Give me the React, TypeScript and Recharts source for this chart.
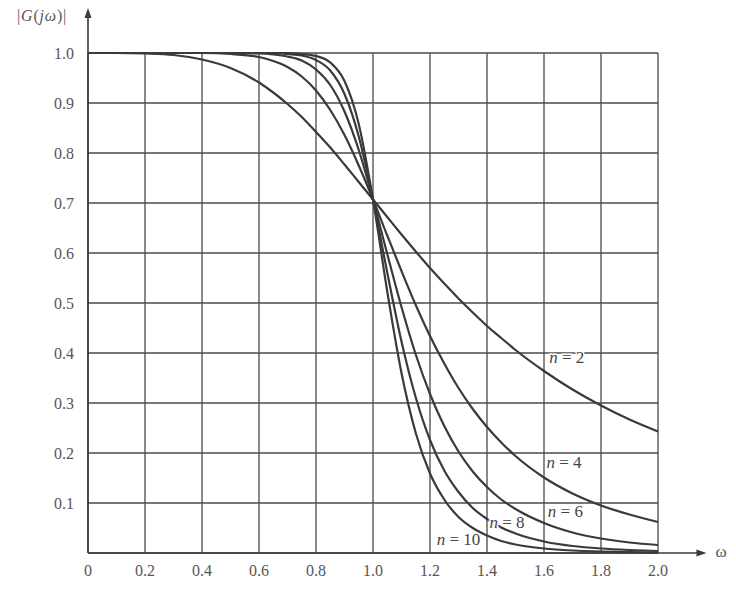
import { LineChart, Line, XAxis, YAxis, CartesianGrid, ReferenceLine, ReferenceDot } from 'recharts'

// frequency points (ω)
const omega = [0, 0.1, 0.2, 0.3, 0.4, 0.5, 0.6, 0.65, 0.7, 0.75, 0.8, 0.85, 0.9, 0.95, 1.0, 1.05, 1.1, 1.15, 1.2, 1.25, 1.3, 1.35, 1.4, 1.45, 1.5, 1.6, 1.7, 1.8, 1.9, 2.0]

// |G(jω)|
const n2 = [1, 1, 0.999, 0.996, 0.987, 0.97, 0.941, 0.921, 0.898, 0.872, 0.842, 0.811, 0.777, 0.742, 0.707, 0.672, 0.637, 0.603, 0.57, 0.539, 0.509, 0.481, 0.454, 0.43, 0.406, 0.364, 0.327, 0.295, 0.267, 0.243]
const n4 = [1, 1, 1, 1, 1, 0.998, 0.992, 0.984, 0.972, 0.953, 0.925, 0.886, 0.836, 0.775, 0.707, 0.635, 0.564, 0.496, 0.434, 0.379, 0.33, 0.288, 0.252, 0.221, 0.194, 0.151, 0.119, 0.095, 0.077, 0.062]
const n6 = [1, 1, 1, 1, 1, 1, 0.999, 0.997, 0.993, 0.985, 0.967, 0.936, 0.883, 0.806, 0.707, 0.598, 0.492, 0.397, 0.318, 0.254, 0.203, 0.163, 0.132, 0.107, 0.088, 0.06, 0.041, 0.029, 0.021, 0.016]
const n8 = [1, 1, 1, 1, 1, 1, 1, 1, 0.998, 0.995, 0.986, 0.965, 0.918, 0.833, 0.707, 0.561, 0.423, 0.311, 0.226, 0.165, 0.122, 0.09, 0.068, 0.051, 0.039, 0.023, 0.014, 0.009, 0.006, 0.004]
const n10 = [1, 1, 1, 1, 1, 1, 1, 1, 1, 0.998, 0.994, 0.981, 0.944, 0.858, 0.707, 0.523, 0.36, 0.24, 0.159, 0.107, 0.072, 0.05, 0.035, 0.024, 0.017, 0.009, 0.005, 0.003, 0.002, 0.001]

const xTicks = [0, 0.2, 0.4, 0.6, 0.8, 1.0, 1.2, 1.4, 1.6, 1.8, 2.0]
const yTicks = [0, 0.1, 0.2, 0.3, 0.4, 0.5, 0.6, 0.7, 0.8, 0.9, 1.0]

// curve labels: [text, ω, |G|]
const curveLabels: [string, number, number][] = [
  ['2', 1.68, 0.39],
  ['4', 1.67, 0.18],
  ['6', 1.675, 0.082],
  ['8', 1.47, 0.06],
  ['10', 1.3, 0.026],
]

const data = omega.map((w, i) => ({ w, n2: n2[i], n4: n4[i], n6: n6[i], n8: n8[i], n10: n10[i] }))

const INK = '#3a3a3a'
const FONT = 'Liberation Serif, DejaVu Serif, serif'
const TXT = { fontFamily: FONT }

const YArrow = (props: any) => {
  const { x1, y1, y2 } = props
  const top = Math.min(y1, y2)
  const bot = Math.max(y1, y2)
  return (
    <g>
      <line x1={x1} y1={bot} x2={x1} y2={top + 6} stroke={INK} strokeWidth={1.6} />
      <polygon points={`${x1},${top} ${x1 - 3.5},${top + 10} ${x1 + 3.5},${top + 10}`} fill={INK} />
      <text x={x1 - 71} y={top + 13} style={TXT} fontSize={16} letterSpacing={0.8} fill="#555">
        |<tspan fontStyle="italic">G</tspan>(<tspan fontStyle="italic">j</tspan>
        <tspan fontStyle="italic">ω</tspan>)|
      </text>
    </g>
  )
}

const XArrow = (props: any) => {
  const { x1, x2, y1 } = props
  const left = Math.min(x1, x2)
  const right = Math.max(x1, x2)
  return (
    <g>
      <line x1={left} y1={y1} x2={right - 6} y2={y1} stroke={INK} strokeWidth={1.6} />
      <polygon points={`${right},${y1} ${right - 10},${y1 - 3.5} ${right - 10},${y1 + 3.5}`} fill={INK} />
      <text x={right + 9} y={y1 + 4} style={TXT} fontSize={17} fill="#555">
        ω
      </text>
    </g>
  )
}

const CurveLabel = (txt: string) => (props: any) => (
  <text
    x={props.cx}
    y={props.cy + 5}
    textAnchor="middle"
    style={TXT}
    fontSize={17}
    fill="#444"
    stroke="#fff"
    strokeWidth={3}
    paintOrder="stroke"
  >
    <tspan fontStyle="italic">n</tspan> = {txt}
  </text>
)

export default function App() {
  return (
    <div style={{ position: 'absolute', left: 0, top: 0, width: 736, height: 602, background: '#fff', fontFamily: FONT }}>
      <LineChart width={736} height={602} data={data} margin={{ top: 53, right: 78, left: 28, bottom: 19 }}>
        <CartesianGrid stroke="#4a4a4a" strokeWidth={1.3} horizontalValues={yTicks} verticalValues={xTicks} />
        <XAxis
          dataKey="w"
          type="number"
          domain={[0, 2]}
          ticks={xTicks}
          tickFormatter={(v: number) => (v === 0 ? '0' : v.toFixed(1))}
          axisLine={false}
          tickLine={false}
          height={30}
          tick={{ fill: '#555', fontSize: 16, style: TXT }}
          tickMargin={6}
        />
        <YAxis
          type="number"
          domain={[0, 1]}
          ticks={yTicks}
          tickFormatter={(v: number) => (v === 0 ? '' : v.toFixed(1))}
          axisLine={false}
          tickLine={false}
          width={60}
          tick={{ fill: '#555', fontSize: 16, style: TXT }}
          tickMargin={8}
        />
        <Line dataKey="n2" type="monotone" stroke={INK} strokeWidth={2.2} dot={false} isAnimationActive={false} />
        <Line dataKey="n4" type="monotone" stroke={INK} strokeWidth={2.2} dot={false} isAnimationActive={false} />
        <Line dataKey="n6" type="monotone" stroke={INK} strokeWidth={2.2} dot={false} isAnimationActive={false} />
        <Line dataKey="n8" type="monotone" stroke={INK} strokeWidth={2.2} dot={false} isAnimationActive={false} />
        <Line dataKey="n10" type="monotone" stroke={INK} strokeWidth={2.2} dot={false} isAnimationActive={false} />
        <ReferenceLine segment={[{ x: 0, y: 0 }, { x: 0, y: 1.09 }]} ifOverflow="visible" shape={YArrow} />
        <ReferenceLine segment={[{ x: 0, y: 0 }, { x: 2.17, y: 0 }]} ifOverflow="visible" shape={XArrow} />
        {curveLabels.map(([t, x, y]) => (
          <ReferenceDot key={t} x={x} y={y} r={0} ifOverflow="visible" shape={CurveLabel(t)} />
        ))}
      </LineChart>
    </div>
  )
}
